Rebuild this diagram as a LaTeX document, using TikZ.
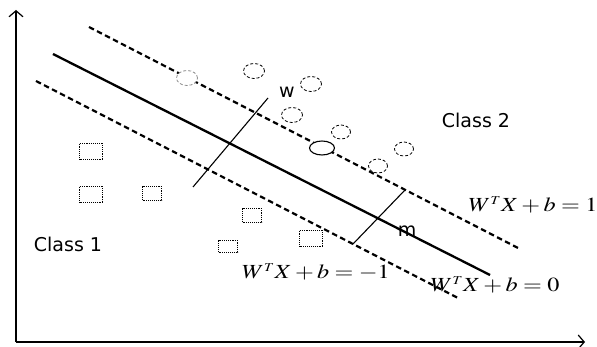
\documentclass[tikz,border=0pt]{standalone}
\usepackage{mathptmx}
\usepackage{fontspec}
\setsansfont{DejaVu Sans}
\usetikzlibrary{shapes.geometric, arrows.meta, positioning}

\begin{document}
\begin{tikzpicture}[x=1pt, y=-1pt,
    axis/.style={-{Straight Barb[length=6pt, width=14pt]}, line width=1.2pt},
    hyper/.style={line width=2.3pt},
    margin/.style={line width=2.2pt, dash pattern=on 5.5pt off 3.5pt},
    normal/.style={line width=1.1pt},
    classtwo/.style={ellipse, draw, densely dashed, line width=0.8pt, fill=white, minimum width=21pt, minimum height=15pt, inner sep=0pt},
    classone/.style={rectangle, draw, densely dotted, line width=0.9pt, minimum width=21pt, minimum height=15pt, inner sep=0pt},
    lbl/.style={font=\sffamily\fontsize{19}{19}\selectfont},
    eq/.style={font=\fontsize{20}{20}\selectfont, inner sep=0pt}]
\useasboundingbox (0,0) rectangle (597,347);

% axes
\coordinate (origin) at (16,342);
\coordinate (ytip) at (16,10);
\coordinate (xtip) at (585,342);
\draw [axis] (origin) -- (ytip);
\draw [axis] (origin) -- (xtip);

% separating hyperplane and margins
\coordinate (zeroA) at (53,54);
\coordinate (zeroB) at (490,275);
\coordinate (plusA) at (89,27);
\coordinate (plusB) at (520,249);
\coordinate (minusA) at (36,81);
\coordinate (minusB) at (458,298);
\draw [hyper] (zeroA) -- (zeroB);
\draw [margin] (plusA) -- (plusB);
\draw [margin] (minusA) -- (minusB);

% normal vector w and margin m
\coordinate (wA) at (193,187);
\coordinate (wB) at (268,98);
\coordinate (mA) at (353,244);
\coordinate (mB) at (405,190);
\draw [normal] (wA) -- (wB);
\draw [normal] (mA) -- (mB);

% class 2 samples
\node [classtwo, draw=black!45] (c1) at (187,78) {};
\node [classtwo] (c2) at (254,71) {};
\node [classtwo] (c3) at (311,84) {};
\node [classtwo] (c4) at (292,115) {};
\node [classtwo, minimum width=19pt, minimum height=14pt] (c5) at (341,132) {};
\node [classtwo, solid, line width=1.1pt, minimum width=25pt, minimum height=14pt] (c6) at (322,148) {};
\node [classtwo, minimum width=19pt, minimum height=14pt] (c7) at (404,149) {};
\node [classtwo, minimum width=19pt, minimum height=14pt] (c8) at (378,166) {};

% class 1 samples
\node [classone, minimum width=23pt, minimum height=16pt] (s1) at (91,151) {};
\node [classone, minimum width=23pt, minimum height=16pt] (s2) at (91,194) {};
\node [classone, minimum width=19pt, minimum height=14pt] (s3) at (152,193) {};
\node [classone, minimum width=19pt, minimum height=14pt] (s4) at (252,215) {};
\node [classone, minimum width=19pt, minimum height=12pt] (s5) at (228,246) {};
\node [classone, minimum width=23pt, minimum height=16pt] (s6) at (311,238) {};

% labels
\node [lbl] (wlbl) at (287,92) {w};
\node [lbl] (mlbl) at (407,231) {m};
\node [lbl] (cls2) at (476,120) {Class 2};
\node [lbl] (cls1) at (68,244) {Class 1};
\node [eq] (eqplus) at (533,205) {\scalebox{1.21}[1]{$W^{\scriptscriptstyle T} X + b = 1$}};
\node [eq] (eqminus) at (316,272) {\scalebox{1.21}[1]{$W^{\scriptscriptstyle T} X + b = -1$}};
\node [eq] (eqzero) at (495,285) {\scalebox{1.21}[1]{$W^{\scriptscriptstyle T} X + b = 0$}};
\end{tikzpicture}
\end{document}
